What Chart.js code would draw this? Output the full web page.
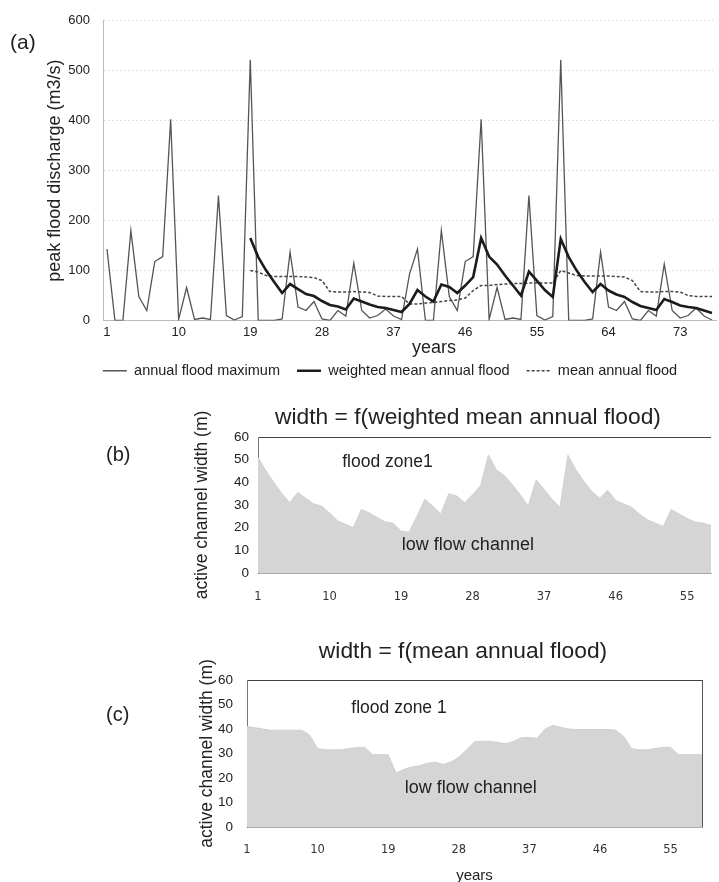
<!DOCTYPE html>
<html>
<head>
<meta charset="utf-8">
<script src="https://cdn.jsdelivr.net/npm/chart.js@4.4.1/dist/chart.umd.min.js"></script>
<style>
    body { margin: 0; background: #fff; width: 719px; height: 882px; position: relative; overflow: hidden; }
    canvas { position: absolute; left: 0; }
    #flood { top: 0; }
    #width-weighted { top: 395px; }
    #width-mean { top: 610px; }
</style>
</head>
<body>
<canvas id="flood" width="719" height="388"></canvas>
<canvas id="width-weighted" width="719" height="215"></canvas>
<canvas id="width-mean" width="719" height="272"></canvas>
<script>
// (a) peak flood discharge, years 1..77
const annualMax = [
    143, 0, 0, 180, 48, 20, 118, 128, 403, 2,
    66, 2, 5, 2, 250, 10, 1, 8, 522, 0,
    0, 0, 3, 137, 27, 20, 38, 3, 0, 20,
    9, 115, 20, 5, 10, 23, 9, 2, 93, 143,
    0, 0, 180, 48, 20, 118, 128, 403, 2, 66,
    2, 5, 2, 250, 10, 1, 8, 522, 0, 0,
    0, 3, 137, 27, 20, 38, 3, 0, 20, 9,
    113, 20, 5, 10, 25, 9, 1
];
// both means start at year 19
const weightedMean = [
    165, 127, 100, 77, 55, 73, 63, 53, 49, 39,
    31, 28, 22, 44, 38, 32, 27, 25, 21, 17,
    33, 61, 48, 38, 72, 67, 55, 70, 87, 165,
    128, 112, 90, 70, 50, 98, 80, 61, 47, 163,
    127, 100, 77, 57, 73, 60, 52, 47, 37, 29,
    25, 21, 43, 37, 30, 27, 25, 20, 15
];
const meanAnnual = [
    100, 97, 90, 88, 88, 88, 88, 87, 86, 80,
    58, 57, 57, 58, 57, 56, 49, 48, 48, 48,
    33, 33, 35, 36, 38, 40, 41, 45, 60, 70,
    70, 72, 73, 74, 74, 75, 75, 75, 75, 100,
    95, 90, 89, 89, 89, 89, 88, 87, 80, 58,
    57, 57, 58, 58, 57, 50, 48, 48, 48
];
const meanStartYear = 19;
const floodTicks = ['1', '10', '19', '28', '37', '46', '55', '64', '73'];

// (b) and (c) active channel width (m)
const widthWeighted = [
    51, 45, 40, 35, 31, 35.5, 33, 30.5, 29.5, 26.5,
    23, 21.5, 20, 28, 26.5, 24.5, 22.5, 22, 18.5, 18,
    25, 32.5, 29.5, 26, 35, 34, 31, 34.5, 38.5, 52,
    45.5, 43, 39, 34.5, 29.5, 41, 37, 32.5, 29, 52,
    45.5, 40.5, 36, 33, 36.5, 32, 30.5, 29, 26, 23.5,
    22, 20.5, 28, 26, 24, 22.5, 22, 21
];
const widthMean = [
    41, 40.5, 40, 39.5, 39.5, 39.5, 39.5, 39.5, 37.5, 32,
    31.5, 31.5, 31.5, 32, 32.5, 32.5, 29.5, 29.5, 29.5, 22,
    23.5, 24.5, 25, 26, 26.5, 25.5, 26.5, 28.5, 31.5, 34.8,
    35, 35, 34.5, 34, 35, 36.5, 36.5, 36.2, 40, 41.5,
    40.7, 40, 39.8, 39.8, 39.8, 39.8, 39.8, 39.5, 37, 32,
    31.5, 31.5, 32, 32.5, 32.5, 29.5, 29.5, 29.5, 29.5
];
const widthTicks = ['1', '10', '19', '28', '37', '46', '55'];

const FONT = "'Liberation Sans', Arial, sans-serif";
Chart.defaults.font.family = FONT;
Chart.defaults.color = '#222';
Chart.defaults.animation = false;

const yearsOf = arr => arr.map((v, i) => i + 1);
const lead = new Array(meanStartYear - 1).fill(null);

// free text: panel letters, titles, zone labels
const textPlugin = {
    id: 'texts',
    afterDraw(chart, args, opts) {
        const ctx = chart.ctx;
        (opts.items || []).forEach(t => {
            ctx.save();
            ctx.font = t.font;
            ctx.fillStyle = '#222';
            ctx.textAlign = t.align || 'left';
            ctx.textBaseline = 'middle';
            let x = t.x, y = t.y;
            if (t.data) {
                x = chart.scales.x.getPixelForValue(t.x);
                y = chart.scales.y.getPixelForValue(t.y);
            }
            ctx.fillText(t.text, x, y);
            ctx.restore();
        });
    }
};

function onlyTicks(list) {
    return function(value) {
        const lab = String(this.getLabelForValue(value));
        return list.includes(lab) ? lab : '';
    };
}

new Chart(document.getElementById('flood'), {
    type: 'line',
    data: {
        labels: yearsOf(annualMax),
        datasets: [
            {
                label: 'annual flood maximum',
                data: annualMax,
                borderColor: '#555',
                borderWidth: 1.3,
                pointRadius: 0,
                order: 3
            }, {
                label: 'weighted mean annual flood',
                data: lead.concat(weightedMean),
                borderColor: '#1c1c1c',
                borderWidth: 2.6,
                pointRadius: 0,
                order: 1
            }, {
                label: 'mean annual flood',
                data: lead.concat(meanAnnual),
                borderColor: '#444',
                borderWidth: 1.5,
                borderDash: [3, 2],
                pointRadius: 0,
                order: 2
            }
        ]
    },
    options: {
        responsive: false,
        layout: { padding: { left: 64, right: 3, top: 20, bottom: 0 } },
        plugins: {
            tooltip: { enabled: false },
            legend: {
                position: 'bottom',
                labels: {
                    usePointStyle: true,
                    pointStyleWidth: 24,
                    padding: 17,
                    color: '#222',
                    font: { size: 14.5 },
                    sort: (a, b) => a.datasetIndex - b.datasetIndex,
                    generateLabels(chart) {
                        const items = Chart.defaults.plugins.legend.labels.generateLabels(chart);
                        items.forEach(it => {
                            const ds = chart.data.datasets[it.datasetIndex];
                            it.pointStyle = 'line';
                            it.lineWidth = ds.borderWidth;
                            it.lineDash = ds.borderDash || [];
                            it.strokeStyle = ds.borderColor;
                        });
                        return items;
                    }
                }
            },
            texts: {
                items: [
                    { text: '(a)', x: 10, y: 43, font: '21px ' + FONT },
                    { text: 'years', x: 434, y: 348, align: 'center', font: '18px ' + FONT }
                ]
            }
        },
        scales: {
            x: {
                offset: true,
                grid: { display: false, drawTicks: false },
                border: { color: '#bbb' },
                ticks: {
                    autoSkip: false,
                    maxRotation: 0,
                    padding: 4,
                    color: '#222',
                    font: { size: 13 },
                    callback: onlyTicks(floodTicks)
                },
                afterFit(s) { s.height = 26; }
            },
            y: {
                min: 0,
                max: 600,
                ticks: { stepSize: 100, padding: 13, color: '#222', font: { size: 13 } },
                grid: { color: '#e2e2e2', drawTicks: false },
                border: { color: '#bbb', dash: [2, 2] },
                title: {
                    display: true,
                    text: 'peak flood discharge (m3/s)',
                    color: '#222',
                    font: { size: 18 },
                    // title sits left of the scale box, inside the layout padding
                    padding: { top: -19.8, bottom: 0 }
                },
                afterFit(s) { s.width = 39; }
            }
        }
    },
    plugins: [textPlugin]
});

function widthChart(id, values, opts) {
    const last = values.length - 1;
    return new Chart(document.getElementById(id), {
        type: 'line',
        data: {
            labels: yearsOf(values),
            datasets: [{
                label: opts.title,
                data: values,
                fill: 'origin',
                backgroundColor: '#d5d5d5',
                borderColor: '#d0d0d0',
                borderWidth: 1,
                pointRadius: 0,
                tension: 0
            }]
        },
        options: {
            responsive: false,
            layout: { padding: opts.padding },
            plugins: {
                tooltip: { enabled: false },
                legend: { display: false },
                texts: { items: opts.texts }
            },
            scales: {
                x: {
                    offset: false,
                    grid: {
                        drawTicks: true,
                        tickLength: opts.tickLength,
                        tickColor: 'transparent',
                        color: c => (opts.rightBorder && c.index === last) ? '#555' : 'transparent'
                    },
                    border: { color: '#aaa' },
                    ticks: {
                        autoSkip: false,
                        maxRotation: 0,
                        padding: 2,
                        color: '#333',
                        font: { family: "'DejaVu Sans', Verdana, sans-serif", size: 11.5 },
                        callback: onlyTicks(widthTicks)
                    },
                    title: opts.xTitle ? {
                        display: true,
                        text: 'years',
                        color: '#222',
                        font: { size: 15 },
                        padding: { top: 0, bottom: -3 }
                    } : { display: false },
                    afterFit(s) { s.height = opts.xHeight; }
                },
                y: {
                    min: 0,
                    max: 60,
                    ticks: { stepSize: 10, padding: opts.yPad, color: '#222', font: { size: 13.5 } },
                    grid: {
                        drawTicks: false,
                        color: c => c.tick.value === 60 ? '#444' : 'transparent'
                    },
                    border: { color: '#777' },
                    title: {
                        display: true,
                        text: 'active channel width (m)',
                        color: '#222',
                        font: { size: 17.5 },
                        padding: { top: 4, bottom: 0 }
                    },
                    afterFit(s) { s.width = opts.yWidth; }
                }
            }
        },
        plugins: [textPlugin]
    });
}

widthChart('width-weighted', widthWeighted, {
    title: 'width = f(weighted mean annual flood)',
    padding: { left: 188, right: 8, top: 42, bottom: 0 },
    yWidth: 70,
    yPad: 9,
    tickLength: 15,
    xHeight: 37,
    xTitle: false,
    rightBorder: false,
    texts: [
        { text: 'width = f(weighted mean annual flood)', x: 468, y: 23, align: 'center', font: '22.8px ' + FONT },
        { text: '(b)', x: 106, y: 60, font: '20px ' + FONT },
        { text: 'flood zone1', x: 10.6, y: 49, data: true, font: '17.5px ' + FONT },
        { text: 'low flow channel', x: 18.1, y: 12.4, data: true, font: '18px ' + FONT }
    ]
});

widthChart('width-mean', widthMean, {
    title: 'width = f(mean annual flood)',
    padding: { left: 193, right: 17, top: 70, bottom: 0 },
    yWidth: 54,
    yPad: 14,
    tickLength: 14,
    xHeight: 55,
    xTitle: true,
    rightBorder: true,
    texts: [
        { text: 'width = f(mean annual flood)', x: 463, y: 42, align: 'center', font: '22.8px ' + FONT },
        { text: '(c)', x: 106, y: 105, font: '20px ' + FONT },
        { text: 'flood zone 1', x: 13.3, y: 48.6, data: true, font: '17.5px ' + FONT },
        { text: 'low flow channel', x: 20.1, y: 15.9, data: true, font: '18px ' + FONT }
    ]
});
</script>
</body>
</html>
